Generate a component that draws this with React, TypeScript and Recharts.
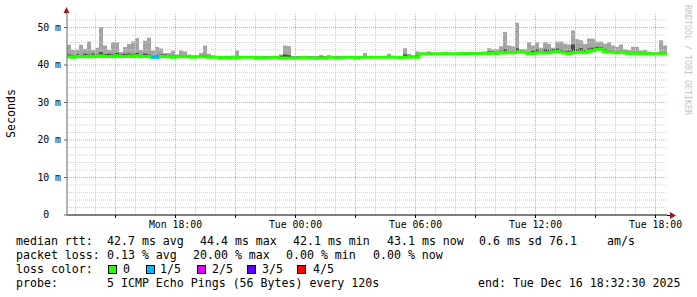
import React from 'react';
import { ComposedChart, Area, Line, XAxis, YAxis, ReferenceLine } from 'recharts';

// time axis: hours since Mon 00:00
const START_HOUR = 12.575; // Mon 12:34
const STEP_HOURS = 0.2; // 12 min per sample
const END_HOUR = 42.575;

const medianRtt = [
  42.2, 42.1, 42.3, 42.2, 42.3, 42.2, 42.4, 42.3, 42.5, 42.3,
  42.3, 42.2, 42.5, 42.3, 42.3, 42.4, 42.3, 42.5, 42.2, 42.3,
  42.3, 42.1, 42.1, 42.3, 42.3, 42.2, 42.1, 42.2, 42.2, 42.3,
  42.2, 42.1, 42.2, 42.2, 42.2, 42.1, 42.1, 42.1, 41.8, 42.1,
  41.8, 42.1, 41.9, 42.1, 42.1, 42.1, 42.1, 41.8, 42.1, 41.8,
  41.9, 42.1, 42.1, 41.8, 41.9, 41.8, 41.9, 41.8, 41.9, 42.1,
  41.8, 41.9, 41.8, 41.9, 41.8, 42.1, 42.1, 41.8, 41.9, 42.1,
  42.1, 42.1, 41.8, 42.1, 42.1, 42.1, 42.1, 42.1, 42.1, 42.1,
  42.1, 42.1, 42.1, 42.0, 42.1, 42.1, 42.2, 42.1, 43.0, 43.0,
  43.0, 43.0, 43.0, 43.0, 43.1, 43.0, 43.0, 43.0, 43.1, 43.0,
  43.1, 43.1, 43.1, 43.1, 43.2, 43.1, 43.2, 43.1, 43.4, 43.2,
  43.4, 43.3, 43.4, 43.5, 43.4, 43.0, 43.1, 43.2, 43.4, 43.2,
  43.3, 43.5, 43.6, 43.4, 43.2, 43.1, 43.3, 43.4, 43.5, 43.3,
  43.6, 43.9, 44.2, 44.3, 43.6, 43.4, 43.4, 43.3, 43.4, 43.3,
  43.1, 43.2, 43.0, 43.0, 43.1, 43.0, 43.0, 43.0, 43.0, 43.0,
];

const smokeMax = [
  45.4, 44.1, 44.1, 45.4, 44.3, 46.3, 44.0, 44.6, 50.1, 45.2,
  44.0, 46.1, 46.0, 43.5, 44.8, 45.6, 46.3, 47.2, 44.0, 46.5,
  47.3, 43.9, 44.8, 44.4, 43.2, 43.2, 43.8, 42.8, 43.9, 43.6,
  42.8, 42.6, 42.6, 43.2, 45.2, 43.0, 42.6, 42.4, 42.4, 42.4,
  42.4, 42.5, 43.9, 42.4, 42.3, 42.3, 42.3, 42.3, 42.3, 42.3,
  42.3, 42.3, 42.3, 42.8, 45.2, 45.0, 42.3, 42.3, 42.3, 42.3,
  42.3, 42.3, 42.3, 42.7, 42.3, 42.6, 42.3, 42.3, 42.3, 42.3,
  42.3, 42.3, 42.3, 42.3, 43.2, 42.3, 42.3, 42.3, 42.3, 42.3,
  43.0, 42.5, 42.3, 42.3, 44.5, 43.0, 42.6, 43.6, 43.2, 43.3,
  43.6, 43.2, 43.2, 43.3, 43.5, 43.2, 43.2, 43.3, 43.3, 43.2,
  43.4, 43.4, 43.3, 43.3, 43.4, 44.5, 44.2, 44.2, 45.0, 48.8,
  45.2, 45.0, 51.3, 44.3, 44.3, 46.1, 45.2, 46.1, 44.6, 46.1,
  45.7, 44.6, 46.3, 46.3, 45.7, 45.5, 49.2, 46.9, 46.6, 45.6,
  47.1, 47.0, 46.3, 46.3, 45.7, 46.1, 45.2, 44.9, 45.5, 44.2,
  44.0, 44.9, 44.9, 43.9, 44.0, 43.6, 43.4, 43.4, 46.6, 45.2,
];

const smokeCore = [
  42.8, 42.6, 42.9, 42.7, 43.0, 42.8, 43.1, 42.8, 43.4, 42.9,
  43.0, 42.8, 43.2, 42.8, 43.0, 43.1, 42.9, 43.2, 42.7, 43.0,
  42.8, 42.4, 42.6, 42.8, 42.8, 42.6, 42.5, 42.5, 42.6, 42.7,
  42.5, 42.4, 42.4, 42.5, 42.6, 42.4, 42.3, 42.3, 42.3, 42.3,
  42.3, 42.3, 42.3, 42.3, 42.3, 42.3, 42.3, 42.3, 42.3, 42.3,
  42.3, 42.3, 42.3, 42.5, 42.8, 42.6, 42.3, 42.3, 42.3, 42.3,
  42.3, 42.3, 42.3, 42.3, 42.3, 42.3, 42.3, 42.3, 42.3, 42.3,
  42.3, 42.3, 42.3, 42.3, 42.3, 42.3, 42.3, 42.3, 42.3, 42.3,
  42.4, 42.3, 42.3, 42.3, 42.8, 42.5, 42.3, 42.6, 43.2, 43.2,
  43.3, 43.2, 43.2, 43.2, 43.3, 43.2, 43.2, 43.2, 43.3, 43.2,
  43.3, 43.3, 43.3, 43.3, 43.4, 43.7, 43.6, 43.5, 43.9, 44.3,
  43.8, 43.7, 44.5, 43.8, 43.7, 43.5, 43.9, 44.2, 43.8, 44.3,
  44.0, 44.2, 44.4, 44.1, 43.8, 43.9, 45.5, 44.2, 44.5, 44.0,
  44.4, 44.6, 44.9, 44.8, 44.2, 43.9, 43.8, 43.7, 43.8, 43.6,
  43.4, 43.5, 43.3, 43.3, 43.3, 43.2, 43.2, 43.2, 43.3, 43.3,
];

// samples where 1 of 5 pings was lost
const lossOneFifthBins = [21, 22];

const yTicks = [0, 10, 20, 30, 40, 50];
const yMinorGrid = [2, 4, 6, 8, 12, 14, 16, 18, 22, 24, 26, 28, 32, 34, 36, 38, 42, 44, 46, 48, 52];
const yMajorGrid = [10, 20, 30, 40, 50];
const xMajorHours = [15, 18, 21, 24, 27, 30, 33, 36, 39, 42];
const xMinorHours = [13, 14, 16, 17, 19, 20, 22, 23, 25, 26, 28, 29, 31, 32, 34, 35, 37, 38, 40, 41];
const xLabels: Record<number, string> = {
  18: 'Mon 18:00',
  24: 'Tue 00:00',
  30: 'Tue 06:00',
  36: 'Tue 12:00',
  42: 'Tue 18:00',
};

const lossColors = [
  { label: '0', color: '#26ff00' },
  { label: '1/5', color: '#00b8ff' },
  { label: '2/5', color: '#dd00ff' },
  { label: '3/5', color: '#5e00ff' },
  { label: '4/5', color: '#ff0000' },
];

const N = medianRtt.length;
const rows = Array.from({ length: N + 1 }, (_, i) => {
  const k = Math.min(i, N - 1);
  const m = medianRtt[k];
  let loss1: number | null = null;
  if (lossOneFifthBins.includes(i)) loss1 = medianRtt[i];
  else if (lossOneFifthBins.includes(i - 1)) loss1 = medianRtt[i - 1];
  return {
    t: i === N ? END_HOUR : START_HOUR + i * STEP_HOURS,
    median: m,
    smoke: [m, smokeMax[k]],
    core: [m, smokeCore[k]],
    loss1,
  };
});

const MONO = '"DejaVu Sans Mono", monospace';
const GRID_MINOR = '#cfcfcf';
const GRID_MAJOR = '#e4a4a4';

export default function App() {
  return (
    <div style={{ position: 'absolute', left: 0, top: 0, width: 697, height: 297, background: '#fff' }}>
      <ComposedChart
        width={697}
        height={297}
        data={rows}
        margin={{ top: 14, right: 30, bottom: 52, left: 0 }}
      >
        <XAxis
          dataKey="t"
          type="number"
          domain={[START_HOUR, END_HOUR]}
          allowDataOverflow
          ticks={xMajorHours}
          interval={0}
          tickFormatter={(v: number) => xLabels[v] ?? ''}
          tickSize={3}
          tickMargin={3}
          height={30}
          axisLine={{ stroke: '#000' }}
          tickLine={{ stroke: '#000' }}
          tick={{ fontFamily: MONO, fontSize: 9.8, fill: '#000' }}
        />
        <YAxis
          type="number"
          domain={[0, 53.6]}
          allowDataOverflow
          ticks={yTicks}
          interval={0}
          width={67}
          tickSize={3}
          tickMargin={3}
          tickFormatter={(v: number) => (v === 0 ? '0\u00a0\u00a0' : `${v} m`)}
          axisLine={{ stroke: '#666' }}
          tickLine={{ stroke: '#666' }}
          tick={{ fontFamily: MONO, fontSize: 9.8, fill: '#000' }}
        />
        {yMinorGrid.map((v) => (
          <ReferenceLine key={'ym' + v} y={v} stroke={GRID_MINOR} strokeDasharray="1 1" />
        ))}
        {xMinorHours.map((v) => (
          <ReferenceLine key={'xm' + v} x={v} stroke={GRID_MINOR} strokeDasharray="1 1" />
        ))}
        {yMajorGrid.map((v) => (
          <ReferenceLine key={'yM' + v} y={v} stroke={GRID_MAJOR} strokeDasharray="1 1" />
        ))}
        {xMajorHours.map((v) => (
          <ReferenceLine key={'xM' + v} x={v} stroke={GRID_MAJOR} strokeDasharray="1 1" />
        ))}
        <Area
          dataKey="smoke"
          type="stepAfter"
          stroke="none"
          fill="#a4a4a4"
          fillOpacity={1}
          isAnimationActive={false}
          dot={false}
          activeDot={false}
        />
        <Area
          dataKey="core"
          type="stepAfter"
          stroke="none"
          fill="#4a4a4a"
          fillOpacity={1}
          isAnimationActive={false}
          dot={false}
          activeDot={false}
        />
        <Line
          dataKey="median"
          type="stepAfter"
          stroke="#26ff00"
          strokeWidth={3}
          dot={false}
          activeDot={false}
          isAnimationActive={false}
        />
        <Line
          dataKey="loss1"
          type="stepAfter"
          stroke="#00b8ff"
          strokeWidth={3}
          dot={false}
          activeDot={false}
          connectNulls={false}
          isAnimationActive={false}
        />
      </ComposedChart>
      <svg
        width={697}
        height={297}
        style={{ position: 'absolute', left: 0, top: 0, pointerEvents: 'none' }}
      >
        {/* axis arrows */}
        <line x1={667} y1={215.5} x2={671} y2={215.5} stroke="#000" />
        <polygon points="670,212 676,215.5 670,219" fill="#9b1c1c" />
        <line x1={66.5} y1={14} x2={66.5} y2={11} stroke="#666" />
        <polygon points="63.5,13 66.5,7 69.5,13" fill="#9b1c1c" />
        {/* vertical title */}
        <text
          transform="translate(15,113.5) rotate(-90)"
          textAnchor="middle"
          fontFamily={MONO}
          fontSize={11.6}
          fill="#000"
        >
          Seconds
        </text>
        {/* watermark */}
        <text transform="translate(685,5) rotate(90)" fontFamily={MONO} fontSize={8.3} fill="#c4c4c4">
          RRDTOOL / TOBI OETIKER
        </text>
        {/* legend */}
        <g fontFamily={MONO} fontSize={11.6} fill="#000">
          <text x={16} y={245}>median rtt:</text>
          <text x={107} y={245}>42.7 ms avg</text>
          <text x={200} y={245}>44.4 ms max</text>
          <text x={293} y={245}>42.1 ms min</text>
          <text x={387} y={245}>43.1 ms now</text>
          <text x={479} y={245}>0.6 ms sd</text>
          <text x={549} y={245}>76.1</text>
          <text x={607} y={245}>am/s</text>

          <text x={16} y={259}>packet loss:</text>
          <text x={107} y={259}>0.13 % avg</text>
          <text x={193} y={259}>20.00 % max</text>
          <text x={286} y={259}>0.00 % min</text>
          <text x={373} y={259}>0.00 % now</text>

          <text x={16} y={273}>loss color:</text>
          {lossColors.map((c, i) => {
            const bx = [108.5, 146.5, 197.5, 247.5, 297.5][i];
            const tx = [123, 160, 212, 262, 313][i];
            return (
              <g key={c.label}>
                <rect x={bx} y={265.5} width={8} height={8} fill={c.color} stroke="#000" strokeWidth={1} />
                <text x={tx} y={273}>{c.label}</text>
              </g>
            );
          })}

          <text x={16} y={287}>probe:</text>
          <text x={107} y={287}>5 ICMP Echo Pings (56 Bytes) every 120s</text>
          <text x={478} y={287}>end: Tue Dec 16 18:32:30 2025</text>
        </g>
      </svg>
    </div>
  );
}
